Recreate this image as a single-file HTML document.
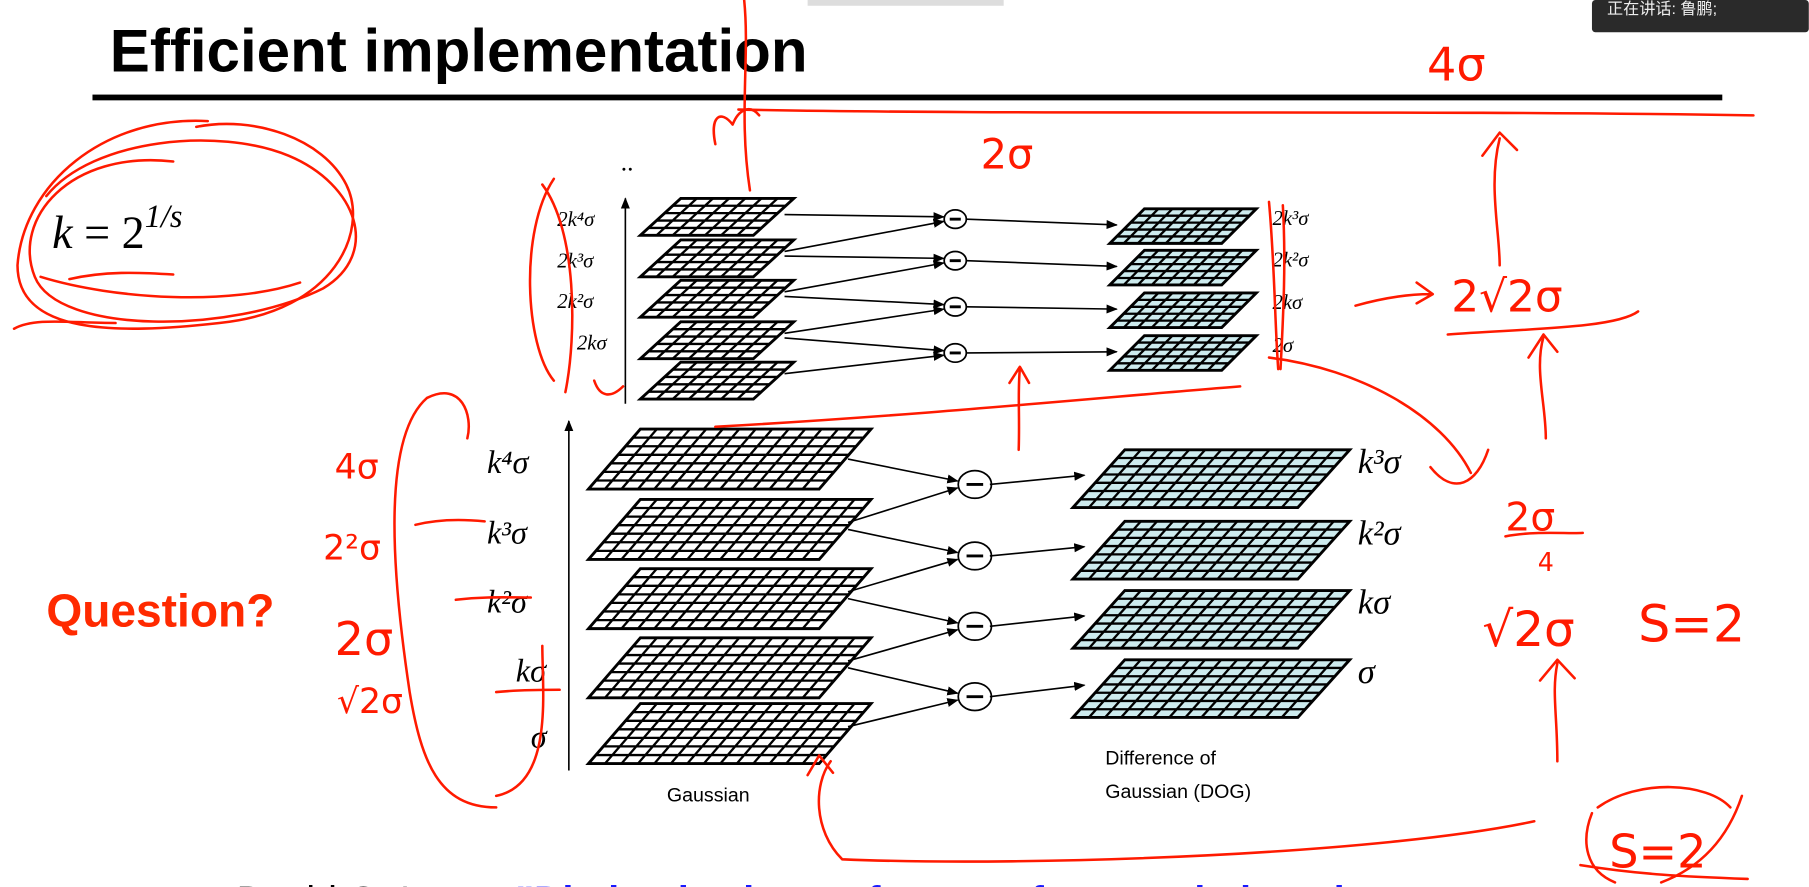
<!DOCTYPE html>
<html><head><meta charset="utf-8">
<style>
html,body{margin:0;padding:0;background:#fff;width:1809px;height:887px;overflow:hidden}
svg{display:block}
.serif{font-family:"Liberation Serif","DejaVu Serif",serif;font-style:italic}
.red{fill:none;stroke:#ff1a00;stroke-width:2.2;stroke-linecap:round;stroke-linejoin:round}
.hand{font-family:"DejaVu Sans","Liberation Sans",sans-serif;fill:#ff1a00}
</style></head>
<body>
<svg id="slide" width="1809" height="887" viewBox="0 0 1568 769" xmlns="http://www.w3.org/2000/svg">
<defs>
<marker id="ah" viewBox="0 0 10 10" refX="9" refY="5" markerWidth="7" markerHeight="7" orient="auto"><path d="M0,1 L10,5 L0,9 z" fill="#000"/></marker>
</defs>
<rect x="700" y="0" width="170" height="5" fill="#ddd"/>
<g>
<rect x="1380" y="0" width="188" height="28" rx="3" fill="#2a2a2a"/>
<text x="1393" y="12" font-size="14" fill="#eee" font-family="'Liberation Sans','Noto Sans CJK SC',sans-serif">正在讲话: 鲁鹏;</text>
</g>
<text x="95" y="62" font-size="52" font-weight="bold" textLength="605" lengthAdjust="spacingAndGlyphs" font-family="'Liberation Sans',sans-serif">Efficient implementation</text>
<rect x="80" y="82" width="1413" height="5" fill="#000"/>
<text x="45" y="215" font-size="40" class="serif">k <tspan font-style="normal">= 2</tspan><tspan dy="-18" font-size="28">1/s</tspan></text>
<text x="40" y="543" font-size="40" font-weight="bold" fill="#ff2a00" font-family="'Liberation Sans',sans-serif">Question?</text>
<text x="205" y="792" font-size="34" font-family="'Liberation Sans',sans-serif">David G. Lowe. <tspan fill="#1a1aff" font-weight="bold">"Distinctive image features from scale-invariant</tspan></text>
<text x="538" y="148" font-size="22">..</text>
<text x="578" y="695" font-size="17" font-family="'Liberation Sans',sans-serif">Gaussian</text>
<text x="958" y="663" font-size="17" font-family="'Liberation Sans',sans-serif">Difference of</text>
<text x="958" y="692" font-size="17" font-family="'Liberation Sans',sans-serif">Gaussian (DOG)</text>
<g id="fig"></g>
<g id="ann">
<path class="red" d="M150,140 C60,130 10,190 30,240 C50,290 200,290 280,250 C330,220 310,160 250,135 C190,110 80,120 40,170"/>
<path class="red" d="M180,105 C90,100 20,160 15,230 C15,290 100,290 190,280 C290,270 320,200 300,160 C280,120 220,100 170,110"/>
<path class="red" d="M35,240 C100,260 200,265 260,245 M60,242 C90,235 120,236 150,238 M12,285 C30,275 60,280 100,280"/>
<path class="red" d="M645,0 C650,50 640,100 650,165 M620,125 C615,100 625,95 635,108 C640,95 650,90 658,100"/>
<path class="red" d="M640,95 C900,100 1200,95 1520,100"/>
<path class="red" d="M1300,230 C1300,200 1290,160 1300,120 M1285,135 L1300,115 L1315,130"/>
<path class="red" d="M1255,290 C1320,285 1400,285 1420,270"/>
<path class="red" d="M1340,380 C1340,350 1330,320 1338,292 M1325,310 L1338,290 L1350,305"/>
<path class="red" d="M1305,465 C1330,460 1360,463 1372,462 M1350,660 C1350,620 1345,600 1350,575 M1335,590 L1350,572 L1365,588"/>
<path class="red" d="M1175,265 C1200,258 1220,255 1240,255 M1228,245 L1242,255 L1228,263"/>
<path class="red" d="M1385,700 C1420,675 1480,678 1500,700 M1510,690 C1500,720 1480,750 1440,765 M1380,705 C1370,730 1375,755 1400,765 M1370,750 C1420,758 1460,760 1515,762"/>
<text class="hand" x="1395" y="752" font-size="40">S=2</text>
<text class="hand" x="1237" y="70" font-size="40">4σ</text>
<text class="hand" x="850" y="146" font-size="36">2σ</text>
<text class="hand" x="1258" y="270" font-size="38">2√2σ</text>
<text class="hand" x="1305" y="460" font-size="34">2σ</text>
<text class="hand" x="1333" y="495" font-size="22">4</text>
<text class="hand" x="1285" y="560" font-size="42">√2σ</text>
<text class="hand" x="1420" y="556" font-size="44">S=2</text>
<path class="red" d="M370,345 C330,380 340,500 355,600 C365,660 380,700 430,700 M370,345 C400,330 410,360 405,380 M430,690 C480,680 470,600 470,560"/>
<text class="hand" x="290" y="415" font-size="30">4σ</text>
<text class="hand" x="280" y="485" font-size="30">2²σ</text>
<text class="hand" x="290" y="568" font-size="40">2σ</text>
<text class="hand" x="292" y="618" font-size="30">√2σ</text>
<path class="red" d="M360,455 C380,450 400,450 420,452 M395,520 C420,517 440,518 460,518 M430,600 C450,598 470,598 485,598"/>
<path class="red" d="M480,155 C450,200 455,300 480,330 M470,160 C500,200 500,290 490,340 M515,330 C520,345 530,345 540,335"/>
<path class="red" d="M1100,175 C1105,230 1105,280 1108,320 M1112,178 C1115,230 1112,280 1110,320"/>
<path class="red" d="M1100,310 C1180,320 1250,360 1275,410 M1240,405 C1260,430 1280,420 1290,390"/>
<path class="red" d="M883,390 C884,360 882,340 884,320 M875,332 L884,318 L892,332"/>
<path class="red" d="M620,370 C800,360 950,345 1075,335" stroke-width="1.5"/>
<path class="red" d="M720,660 C705,680 705,720 730,745 C900,752 1200,740 1330,712 M700,672 L710,655 L722,670"/>
</g>
</svg>
<script>
var NS="http://www.w3.org/2000/svg";
var fig=document.getElementById('fig');
// data
var gaussTops=[372,433,493,553,610];
var gaussLabels=["k⁴σ","k³σ","k²σ","kσ","σ"];
var dogTops=[390,452,512,572];
var dogLabels=["k³σ","k²σ","kσ","σ"];
var sGaussTops=[172,208,243,279,314];
var sGaussLabels=["2k⁴σ","2k³σ","2k²σ","2kσ",""];
var sDogTops=[181,217,254,291];
var sDogLabels=["2k³σ","2k²σ","2kσ","2σ"];
function mk(tag,attrs,parent){var e=document.createElementNS(NS,tag);for(var k in attrs)e.setAttribute(k,attrs[k]);(parent||fig).appendChild(e);return e;}
function grid(x0,y0,w,h,skew,cols,rows,fill,name){
 var g=mk('g',{});
 
 
 function P(u,v){return [(x0+skew*(1-v)+w*u).toFixed(1),(y0+h*v).toFixed(1)];}
 var a=P(0,0),b=P(1,0),c=P(1,1),d=P(0,1);
 mk('polygon',{points:a+' '+b+' '+c+' '+d,fill:fill,stroke:'#000','stroke-width':2.5},g);
 var dd='';
 for(var i=1;i<cols;i++){var p=P(i/cols,0),q=P(i/cols,1);dd+='M'+p+'L'+q;}
 for(var j=1;j<rows;j++){var p2=P(0,j/rows),q2=P(1,j/rows);dd+='M'+p2+'L'+q2;}
 mk('path',{d:dd,stroke:'#000','stroke-width':2,fill:'none'},g);
 return g;
}
function arrow(x1,y1,x2,y2,name){var l=mk('line',{x1:x1,y1:y1,x2:x2,y2:y2,stroke:'#000','stroke-width':1.4,'marker-end':'url(#ah)'});
 
 }
function minus(cx,cy,r,name){var g=mk('g',{});
 
 
 mk('ellipse',{cx:cx,cy:cy,rx:r*1.2,ry:r,fill:'#fff',stroke:'#000','stroke-width':1.5},g);
 mk('line',{x1:cx-r*0.6,y1:cy,x2:cx+r*0.6,y2:cy,stroke:'#000','stroke-width':2.5},g);}
function label(x,y,s,size,name){var t=mk('text',{x:x,y:y,'font-size':size,'class':'serif'});t.textContent=s;
 
 }
arrow(493,668,493,365,'gaussian-scale-axis');
var gC=[604,543,482,420];
gaussTops.forEach(function(t,i){grid(510,t,200,52,45,14,7,'#fff','gaussian-layer');var L=gaussLabels[i];label(L.length>2?422:(L.length>1?447:460),t+38,L,28,'gaussian-scale-label');});
for(var i=0;i<4;i++){var lo=gaussTops[4-i],hi=gaussTops[3-i],cy=gC[i];
 arrow(735,lo+20,830,cy+3,'gauss-to-diff-arrow');arrow(735,hi+26,830,cy-3,'gauss-to-diff-arrow');
 minus(845,cy,12,'subtract-node');}
dogTops.forEach(function(t,i){grid(930,t,195,50,45,14,7,'#cdebee','dog-layer');label(1177,t+20,dogLabels[i],30,'dog-scale-label');
 arrow(858,gC[3-i],940,t+22,'diff-to-dog-arrow');});
arrow(542,350,542,172,'small-scale-axis');
var sC=[306,266,226,190];
sGaussTops.forEach(function(t,i){grid(555,t,98,32,35,7,5,'#fff','small-gaussian-layer');var L=sGaussLabels[i];if(L)label(L.length>3?483:500,t+24,L,18,'small-scale-label');});
for(var i=0;i<4;i++){var lo=sGaussTops[4-i],hi=sGaussTops[3-i],cy=sC[i];
 arrow(680,lo+10,818,cy+2,'small-gauss-arrow');arrow(680,hi+14,818,cy-2,'small-gauss-arrow');
 minus(828,cy,8,'small-subtract-node');}
sDogTops.forEach(function(t,i){grid(962,t,97,30,30,8,5,'#cdebee','small-dog-layer');label(1103,t+14,sDogLabels[i],18,'small-dog-label');
 arrow(838,sC[3-i],968,t+14,'small-diff-to-dog-arrow');});
</script>
</body></html>
